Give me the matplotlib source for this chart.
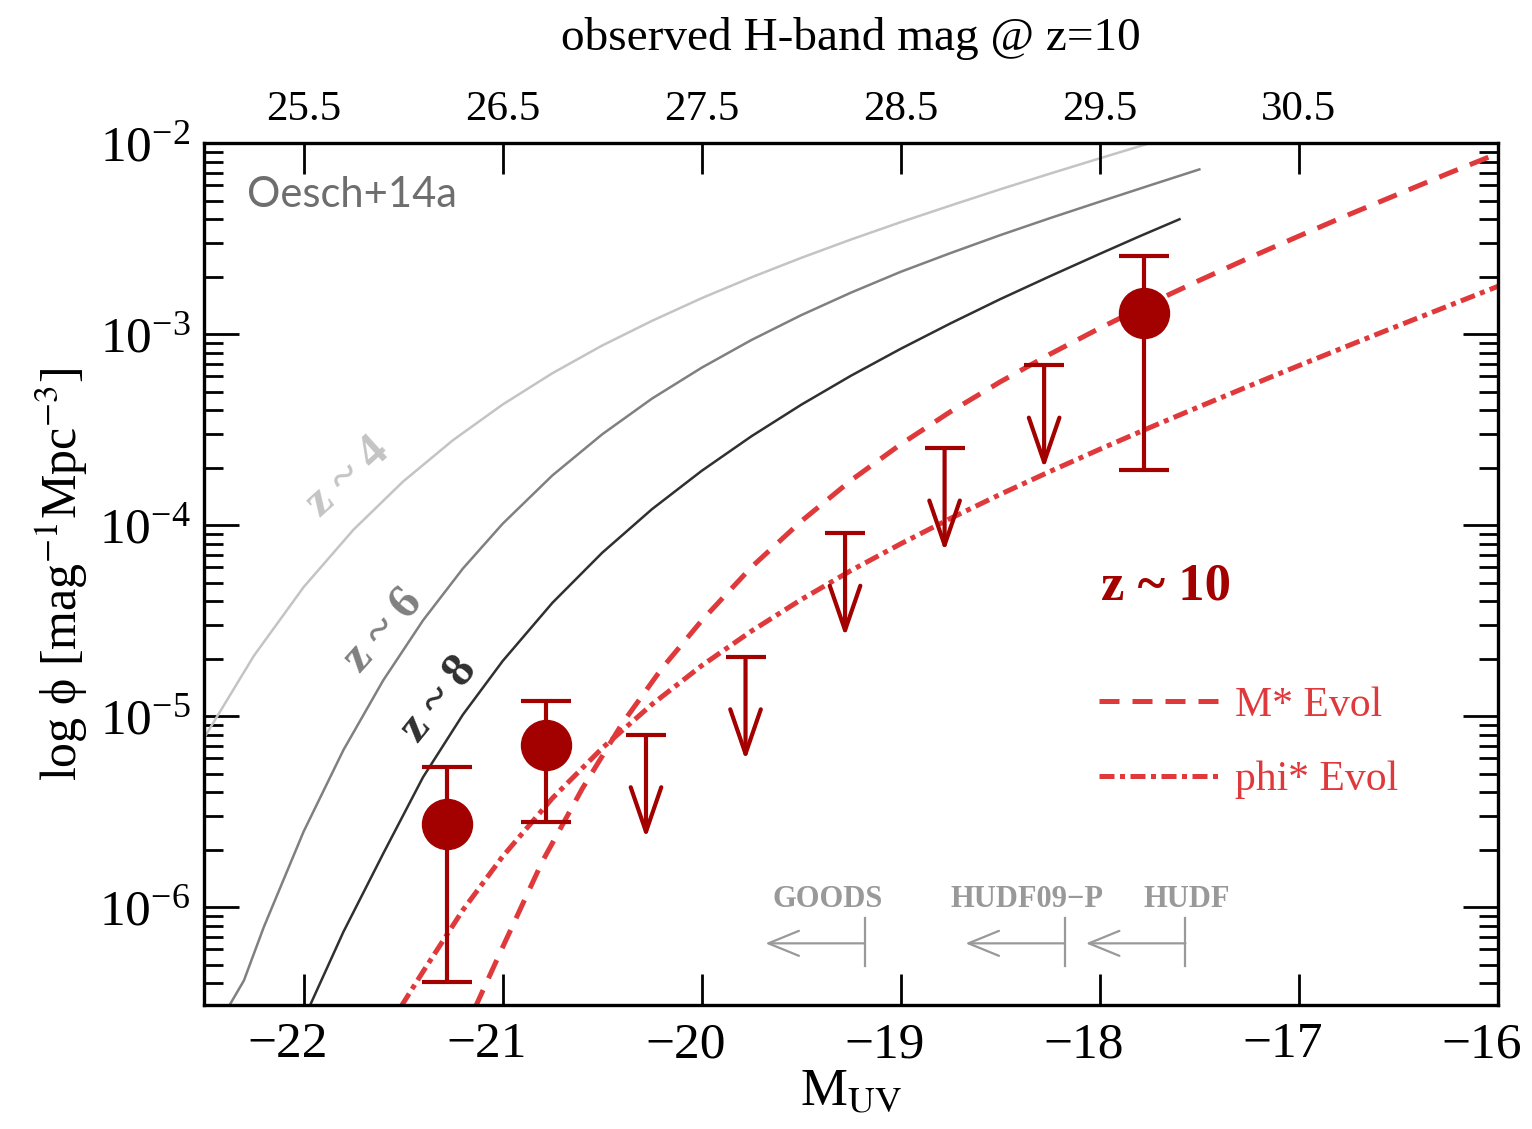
import numpy as np
import matplotlib.pyplot as plt
import matplotlib.transforms as mtransforms

plt.rcParams['font.family'] = ['Liberation Serif', 'DejaVu Serif']
plt.rcParams['mathtext.fontset'] = 'stix'

# lower-z reference LFs (log phi)
z4_M = [-22.5, -22.25, -22.0, -21.75, -21.5, -21.25, -21.0, -20.75, -20.5,
        -20.25, -20.0, -19.75, -19.5, -19.25, -19.0, -18.75, -18.5, -18.25,
        -18.0, -17.75, -17.5]
z4_lp = [-5.115, -4.685, -4.325, -4.025, -3.772, -3.556, -3.369, -3.205, -3.060,
         -2.931, -2.812, -2.703, -2.601, -2.505, -2.414, -2.327, -2.242, -2.160,
         -2.080, -2.001, -1.924]

z6_M = [-22.37, -22.3, -22.2, -22.0, -21.8, -21.6, -21.4, -21.2, -21.0,
        -20.75, -20.5, -20.25, -20.0, -19.75, -19.5, -19.25, -19.0, -18.75,
        -18.5, -18.25, -18.0, -17.75, -17.5]
z6_lp = [-6.51, -6.385, -6.105, -5.605, -5.178, -4.813, -4.499, -4.228, -3.993,
         -3.740, -3.525, -3.338, -3.176, -3.031, -2.901, -2.783, -2.674, -2.576,
         -2.482, -2.393, -2.307, -2.222, -2.138]

z8_M = [-21.97, -21.8, -21.6, -21.4, -21.2, -21.0, -20.75, -20.5, -20.25,
        -20.0, -19.75, -19.5, -19.25, -19.0, -18.75, -18.5, -18.25, -18.0,
        -17.8, -17.6]
z8_lp = [-6.52, -6.13, -5.72, -5.32, -4.993, -4.712, -4.407, -4.145, -3.917,
         -3.716, -3.535, -3.370, -3.218, -3.077, -2.944, -2.817, -2.697, -2.580,
         -2.488, -2.399]

# z~10 model extrapolations
mstar_M = [-21.14, -21.0, -20.8, -20.6, -20.4, -20.2, -20.0, -19.75, -19.5,
           -19.25, -19.0, -18.75, -18.5, -18.25, -18.0, -17.75, -17.5, -17.25,
           -17.0, -16.75, -16.5, -16.25, -16.0]
mstar_lp = [-6.53, -6.21, -5.76, -5.38, -5.04, -4.75, -4.50, -4.22, -3.98,
            -3.766, -3.577, -3.406, -3.250, -3.105, -2.969, -2.841, -2.719, -2.601,
            -2.487, -2.375, -2.267, -2.159, -2.054]

phistar_M = [-21.51, -21.4, -21.2, -21.0, -20.75, -20.5, -20.25, -20.0, -19.75,
             -19.5, -19.25, -19.0, -18.75, -18.5, -18.25, -18.0, -17.75, -17.5,
             -17.25, -17.0, -16.75, -16.5, -16.25, -16.0]
phistar_lp = [-6.52, -6.338, -6.016, -5.735, -5.430, -5.168, -4.939, -4.736, -4.555,
              -4.390, -4.238, -4.098, -3.965, -3.839, -3.719, -3.603, -3.490, -3.380,
              -3.272, -3.165, -3.060, -2.956, -2.853, -2.750]

# z~10 stepwise LF
det_M = [-21.28, -20.78, -17.78]
det_lp = [-5.565, -5.152, -2.888]
det_lp_hi = [-5.265, -4.920, -2.590]
det_lp_lo = [-6.391, -5.553, -3.712]

ul_M = [-20.28, -19.78, -19.28, -18.78, -18.28]
ul_lp = [-5.099, -4.691, -4.044, -3.598, -3.164]

# survey depths
depth_names = ['GOODS', 'HUDF09\u2212P', 'HUDF']
depth_M = [-19.18, -18.175, -17.57]
depth_text_M = [-19.37, -18.365, -17.565]

bottom_ticks = [-22, -21, -20, -19, -18, -17, -16]
top_ticks = [-22, -21, -20, -19, -18, -17]
top_labels = ['25.5', '26.5', '27.5', '28.5', '29.5', '30.5']

dark = '#a30000'
red = '#e0393c'

fig = plt.figure(figsize=(15.32, 11.29), dpi=100)
ax = fig.add_axes([0.1332, 0.1098, 0.8446, 0.7635])
ax.set_yscale('log')

p = lambda lp: 10 ** np.array(lp)

ax.plot(z4_M, p(z4_lp), color='#c4c4c4', lw=1.8)
ax.plot(z6_M, p(z6_lp), color='#808080', lw=1.8)
ax.plot(z8_M, p(z8_lp), color='#303030', lw=1.8)

ax.plot(mstar_M, p(mstar_lp), color=red, lw=3.6, dashes=(4, 2.6),
        label='M* Evol')
ax.plot(phistar_M, p(phistar_lp), color=red, lw=3.6, dashes=(3, 1.1, 1, 1.1),
        label='phi* Evol')

phi = p(det_lp)
ax.errorbar(det_M, phi, yerr=[phi - p(det_lp_lo), p(det_lp_hi) - phi],
            fmt='o', ms=36, color=dark, elinewidth=3, capsize=18, capthick=3,
            zorder=5)

ul = p(ul_lp)
ax.plot(ul_M, ul, ls='none', marker='_', ms=29, mew=3, color=dark, zorder=5)
for m, u in zip(ul_M, ul):
    ax.annotate('', xy=(m, u * 10 ** -0.54), xytext=(m, u),
                arrowprops=dict(arrowstyle='->,head_length=3.2,head_width=1.1',
                                lw=3, color=dark, shrinkA=0, shrinkB=0),
                zorder=5)

ya, yb, yc = 10 ** -6.19, 10 ** -6.058, 10 ** -6.309
for name, m, tm in zip(depth_names, depth_M, depth_text_M):
    ax.plot([m, m], [yb, yc], color='#999999', lw=1.6)
    ax.annotate('', xy=(m - 0.5, ya), xytext=(m, ya),
                arrowprops=dict(arrowstyle='->,head_length=2.2,head_width=0.9',
                                lw=1.6, color='#999999', shrinkA=0, shrinkB=0))
    ax.text(tm, 10 ** -5.963, name, color='#999999', fontsize=22,
            fontweight='bold', ha='center', va='center')

ax.text(-21.78, 10 ** -3.75, 'z ~ 4', color='#c4c4c4', fontsize=35,
        fontweight='bold', rotation=42, ha='center', va='center')
ax.text(-21.6, 10 ** -4.55, 'z ~ 6', color='#808080', fontsize=35,
        fontweight='bold', rotation=48, ha='center', va='center')
ax.text(-21.32, 10 ** -4.91, 'z ~ 8', color='#303030', fontsize=35,
        fontweight='bold', rotation=51, ha='center', va='center')
ax.text(-17.67, 10 ** -4.32, 'z ~ 10', color=dark, fontsize=38,
        fontweight='bold', ha='center', va='center')
ax.text(0.033, 0.94, 'Oesch+14a', transform=ax.transAxes, color='#6e6e6e',
        fontsize=30, family='Lato', ha='left', va='center')

leg = ax.legend(loc='upper left', bbox_to_anchor=(0.692, 0.37), frameon=False,
                fontsize=30, handlelength=2.9, handletextpad=0.35,
                labelspacing=0.87, borderpad=0, borderaxespad=0)
for t in leg.get_texts():
    t.set_color(red)

ax.set_xlim(-22.5, -16)
ax.set_ylim(10 ** -6.513, 1e-2)
ax.set_xticks(bottom_ticks)
ax.set_xticklabels(['\u2212%d' % -t for t in bottom_ticks])
ax.yaxis.set_major_locator(plt.LogLocator(base=10, numticks=10))
ax.yaxis.set_minor_locator(plt.LogLocator(base=10, subs=np.arange(2, 10), numticks=20))
ax.tick_params(axis='x', which='both', direction='in', top=False, length=22,
               width=2, labelsize=37, pad=12)
ax.tick_params(axis='y', which='major', direction='in', left=True, right=True,
               length=25, width=2, labelsize=37, pad=10)
ax.tick_params(axis='y', which='minor', direction='in', left=True, right=True,
               length=14, width=2)
for s in ax.spines.values():
    s.set_linewidth(2.4)

shift = mtransforms.ScaledTranslation(-0.16, 0, fig.dpi_scale_trans)
for lab in ax.get_xticklabels():
    lab.set_transform(lab.get_transform() + shift)

ax.set_xlabel(r'M$_{\rm UV}$', fontsize=38, labelpad=0)
ax.set_ylabel('log \u03d5 [mag$^{-1}$Mpc$^{-3}$]', fontsize=36, labelpad=6)

ax2 = ax.twiny()
ax2.set_xlim(ax.get_xlim())
ax2.set_xticks(top_ticks)
ax2.set_xticklabels(top_labels)
ax2.tick_params(axis='x', direction='in', length=22, width=2, labelsize=31,
                pad=10)
ax2.set_xlabel('observed H-band mag @ z=10', fontsize=34, labelpad=29)

fig.savefig('out.png', dpi=100)
